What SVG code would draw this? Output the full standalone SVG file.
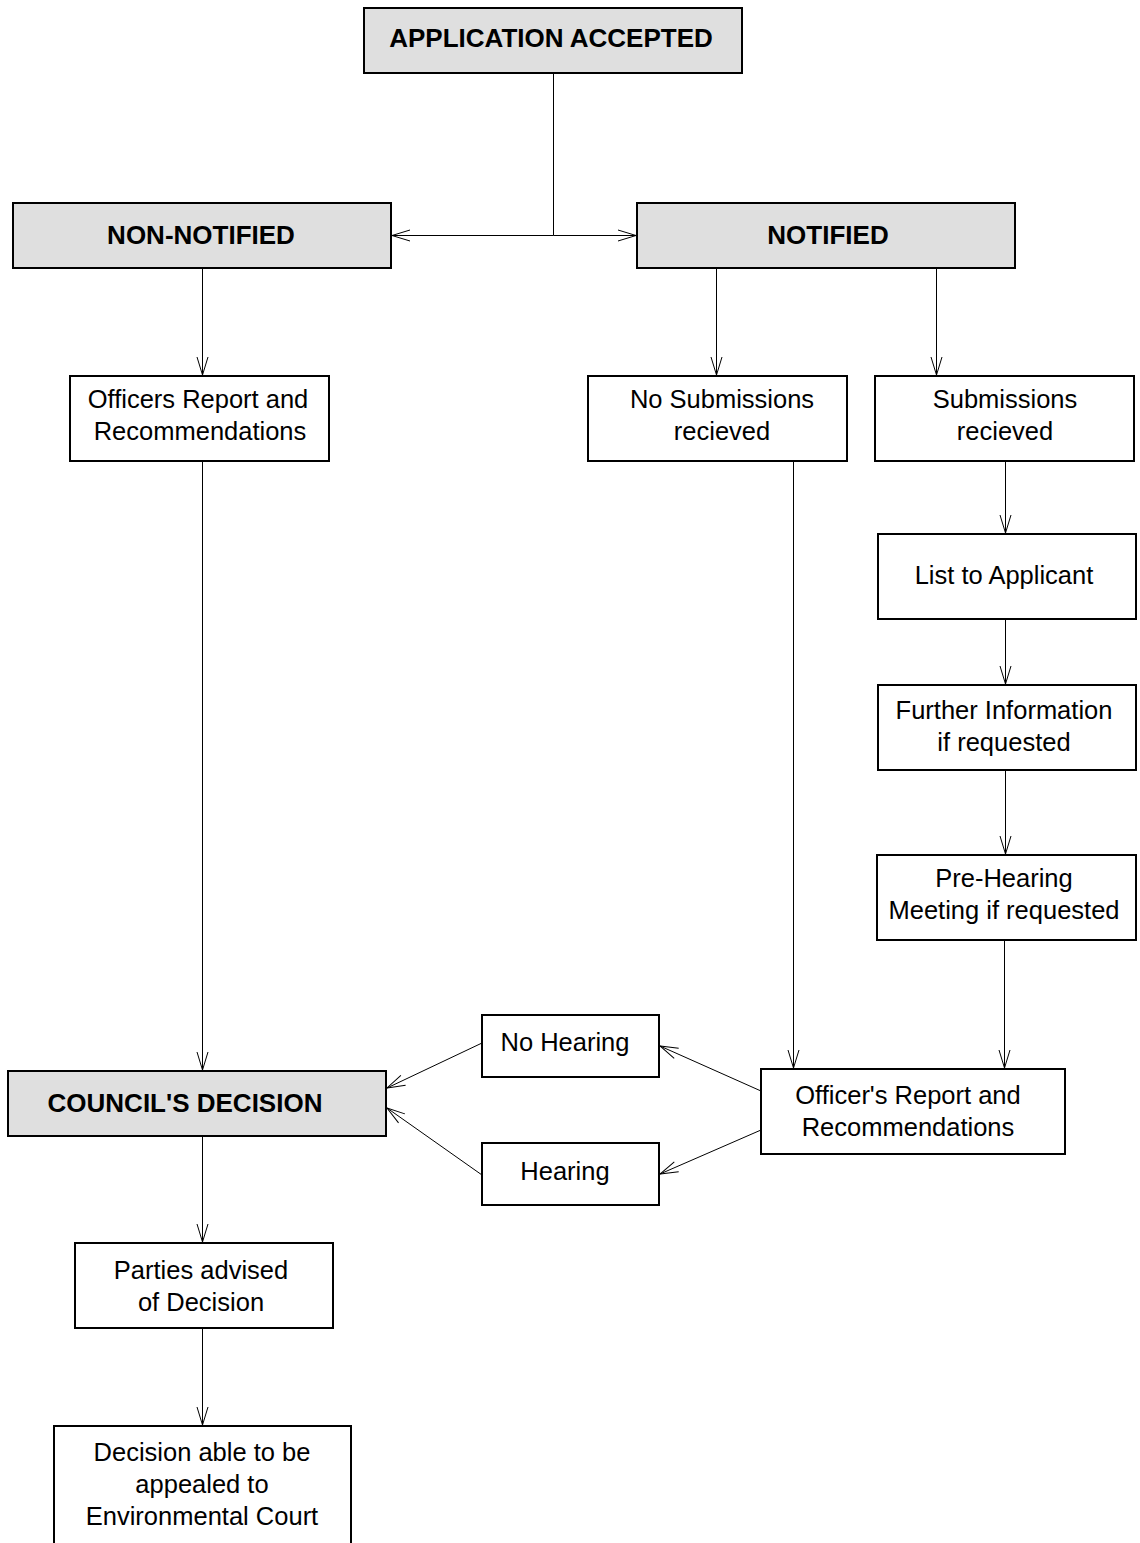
<svg xmlns="http://www.w3.org/2000/svg" width="1140" height="1543" viewBox="0 0 1140 1543">
<defs>
<style>
.box{fill:#fff;stroke:#000;stroke-width:2}
.gbox{fill:#dfdfdf;stroke:#000;stroke-width:2}
.t{font-family:"Liberation Sans",Arial,sans-serif;font-size:25.5px;fill:#000;text-anchor:middle}
.b{font-family:"Liberation Sans",Arial,sans-serif;font-size:26px;font-weight:bold;fill:#000;text-anchor:middle}
.c{fill:none;stroke:#000;stroke-width:1}
</style>
<marker id="ah" markerUnits="userSpaceOnUse" markerWidth="20" markerHeight="12" refX="18" refY="5.5" orient="auto" overflow="visible">
<path d="M0,0 L18,5.5 L0,11" fill="none" stroke="#000" stroke-width="1"/>
</marker>
</defs>
<rect width="1140" height="1543" fill="#fff"/>
<g id="connectors">
<line class="c" x1="553.5" y1="73" x2="553.5" y2="235.5"/>
<line class="c" x1="553.5" y1="235.5" x2="392" y2="235.5" marker-end="url(#ah)"/>
<line class="c" x1="553.5" y1="235.5" x2="636" y2="235.5" marker-end="url(#ah)"/>
<line class="c" x1="202.5" y1="268" x2="202.5" y2="375" marker-end="url(#ah)"/>
<line class="c" x1="716.5" y1="268" x2="716.5" y2="375" marker-end="url(#ah)"/>
<line class="c" x1="936.5" y1="268" x2="936.5" y2="375" marker-end="url(#ah)"/>
<line class="c" x1="1005.5" y1="461" x2="1005.5" y2="533" marker-end="url(#ah)"/>
<line class="c" x1="1005.5" y1="619" x2="1005.5" y2="684" marker-end="url(#ah)"/>
<line class="c" x1="1005.5" y1="770" x2="1005.5" y2="854" marker-end="url(#ah)"/>
<line class="c" x1="1004.5" y1="940" x2="1004.5" y2="1068" marker-end="url(#ah)"/>
<line class="c" x1="793.5" y1="461" x2="793.5" y2="1068" marker-end="url(#ah)"/>
<line class="c" x1="202.5" y1="461" x2="202.5" y2="1070" marker-end="url(#ah)"/>
<line class="c" x1="761" y1="1091" x2="660" y2="1046" marker-end="url(#ah)"/>
<line class="c" x1="761" y1="1130" x2="660" y2="1174" marker-end="url(#ah)"/>
<line class="c" x1="482" y1="1043" x2="387" y2="1088" marker-end="url(#ah)"/>
<line class="c" x1="482" y1="1175" x2="387" y2="1108" marker-end="url(#ah)"/>
<line class="c" x1="202.5" y1="1136" x2="202.5" y2="1242" marker-end="url(#ah)"/>
<line class="c" x1="202.5" y1="1328" x2="202.5" y2="1425" marker-end="url(#ah)"/>
</g>
<g id="application-accepted">
<rect class="gbox" x="364" y="8" width="378" height="65"/>
<text class="b" x="551" y="47">APPLICATION ACCEPTED</text>
</g>
<g id="non-notified">
<rect class="gbox" x="13" y="203" width="378" height="65"/>
<text class="b" x="201" y="244">NON-NOTIFIED</text>
</g>
<g id="notified">
<rect class="gbox" x="637" y="203" width="378" height="65"/>
<text class="b" x="828" y="244">NOTIFIED</text>
</g>
<g id="officers-report-1">
<rect class="box" x="70" y="376" width="259" height="85"/>
<text class="t" x="198" y="408">Officers Report and</text>
<text class="t" x="200" y="440">Recommendations</text>
</g>
<g id="no-submissions">
<rect class="box" x="588" y="376" width="259" height="85"/>
<text class="t" x="722" y="408">No Submissions</text>
<text class="t" x="722" y="440">recieved</text>
</g>
<g id="submissions">
<rect class="box" x="875" y="376" width="259" height="85"/>
<text class="t" x="1005" y="408">Submissions</text>
<text class="t" x="1005" y="440">recieved</text>
</g>
<g id="list-to-applicant">
<rect class="box" x="878" y="534" width="258" height="85"/>
<text class="t" x="1004" y="584">List to Applicant</text>
</g>
<g id="further-information">
<rect class="box" x="878" y="685" width="258" height="85"/>
<text class="t" x="1004" y="719">Further Information</text>
<text class="t" x="1004" y="751">if requested</text>
</g>
<g id="pre-hearing">
<rect class="box" x="877" y="855" width="259" height="85"/>
<text class="t" x="1004" y="887">Pre-Hearing</text>
<text class="t" x="1004" y="919">Meeting if requested</text>
</g>
<g id="officers-report-2">
<rect class="box" x="761" y="1069" width="304" height="85"/>
<text class="t" x="908" y="1104">Officer's Report and</text>
<text class="t" x="908" y="1136">Recommendations</text>
</g>
<g id="no-hearing">
<rect class="box" x="482" y="1015" width="177" height="62"/>
<text class="t" x="565" y="1051">No Hearing</text>
</g>
<g id="hearing">
<rect class="box" x="482" y="1143" width="177" height="62"/>
<text class="t" x="565" y="1180">Hearing</text>
</g>
<g id="councils-decision">
<rect class="gbox" x="8" y="1071" width="378" height="65"/>
<text class="b" x="185" y="1112">COUNCIL'S DECISION</text>
</g>
<g id="parties-advised">
<rect class="box" x="75" y="1243" width="258" height="85"/>
<text class="t" x="201" y="1279">Parties advised</text>
<text class="t" x="201" y="1311">of Decision</text>
</g>
<g id="appeal">
<rect class="box" x="54" y="1426" width="297" height="130"/>
<text class="t" x="202" y="1461">Decision able to be</text>
<text class="t" x="202" y="1493">appealed to</text>
<text class="t" x="202" y="1525">Environmental Court</text>
</g>
</svg>
